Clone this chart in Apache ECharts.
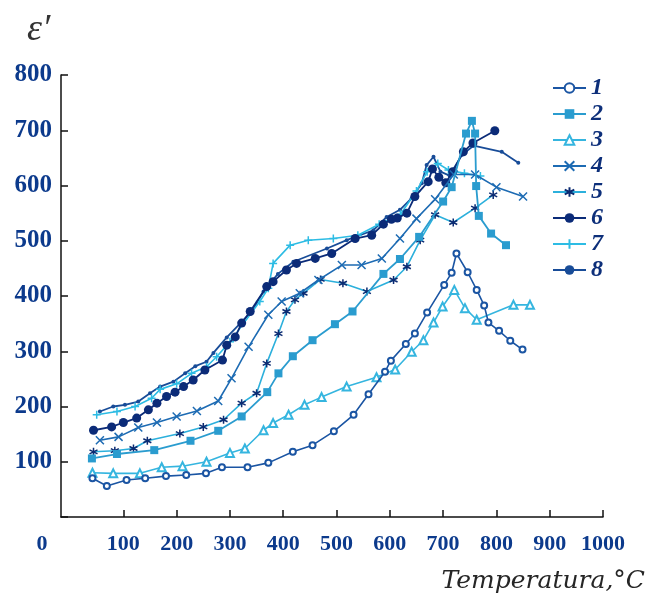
<!DOCTYPE html>
<html>
<head>
<meta charset="utf-8">
<script src="https://cdn.jsdelivr.net/npm/echarts@6/dist/echarts.min.js"></script>
<style>
  html, body { margin: 0; padding: 0; background: #fff; }
  #chart { width: 651px; height: 595px; }
</style>
</head>
<body>
<div id="chart"></div>
<script>
// Dielectric permittivity ε′ versus temperature, curves 1–8
const xTicks = [100, 200, 300, 400, 500, 600, 700, 800, 900, 1000];
const xLabels = [0, 100, 200, 300, 400, 500, 600, 700, 800, 900, 1000];
const seriesNames = ['1', '2', '3', '4', '5', '6', '7', '8'];

const t1 = [42, 69, 106, 141, 180, 218, 255, 285, 333, 372, 418, 455, 495, 532, 560, 591, 602, 630, 647, 670, 702, 716, 725, 746, 763, 777, 785, 805, 826, 849];
const v1 = [70, 56, 67, 70, 74, 76, 79, 90, 90, 98, 118, 130, 155, 185, 222, 263, 283, 313, 332, 370, 420, 442, 477, 443, 411, 383, 352, 337, 319, 303];

const t2 = [41, 88, 158, 226, 278, 322, 370, 391, 418, 455, 497, 530, 588, 619, 655, 700, 716, 743, 754, 760, 762, 767, 790, 818];
const v2 = [106, 114, 121, 138, 156, 182, 226, 260, 291, 320, 349, 372, 440, 467, 507, 571, 597, 694, 717, 694, 599, 545, 513, 492];

const t3 = [42, 81, 131, 172, 211, 256, 300, 328, 363, 381, 410, 440, 472, 519, 575, 610, 641, 663, 682, 699, 721, 741, 763, 832, 863];
const v3 = [80, 79, 79, 90, 92, 100, 116, 124, 157, 170, 185, 203, 217, 236, 253, 267, 299, 320, 352, 381, 411, 378, 357, 384, 384];

const t4 = [56, 91, 128, 163, 200, 238, 278, 303, 335, 372, 397, 431, 466, 510, 547, 585, 619, 650, 685, 720, 760, 800, 850];
const v4 = [139, 145, 162, 171, 182, 192, 210, 251, 308, 366, 390, 405, 429, 456, 456, 468, 504, 540, 575, 620, 620, 597, 580];

const t5 = [44, 84, 119, 145, 206, 250, 288, 322, 350, 369, 391, 406, 422, 438, 470, 512, 557, 607, 632, 657, 685, 719, 760, 794];
const v5 = [118, 120, 124, 138, 151, 163, 176, 206, 224, 278, 332, 372, 393, 405, 430, 423, 408, 429, 453, 501, 547, 533, 559, 583];

const t6 = [44, 78, 100, 125, 147, 163, 181, 197, 213, 231, 253, 286, 294, 310, 322, 338, 369, 381, 406, 425, 460, 491, 535, 566, 588, 603, 614, 632, 647, 672, 680, 692, 705, 718, 738, 756, 797];
const v6 = [157, 163, 171, 179, 194, 206, 218, 226, 236, 248, 266, 284, 311, 326, 351, 372, 417, 426, 447, 459, 468, 477, 504, 510, 530, 539, 541, 550, 580, 607, 630, 615, 605, 625, 661, 677, 699];

const t7 = [50, 88, 122, 153, 169, 200, 228, 256, 275, 300, 356, 372, 381, 413, 447, 494, 540, 580, 620, 650, 670, 690, 710, 740, 770];
const v7 = [185, 191, 200, 215, 231, 241, 260, 272, 290, 317, 390, 414, 459, 492, 501, 504, 510, 530, 548, 590, 625, 640, 628, 622, 617];

const t8 = [56, 81, 103, 128, 150, 169, 194, 216, 235, 256, 269, 294, 322, 341, 363, 390, 419, 482, 519, 569, 594, 619, 641, 660, 669, 682, 695, 712, 735, 757, 810, 841];
const v8 = [191, 200, 203, 209, 224, 236, 245, 260, 273, 281, 297, 325, 353, 372, 408, 440, 462, 486, 501, 519, 543, 556, 577, 604, 637, 652, 625, 618, 655, 672, 661, 641];

const pairs = (t, v) => t.map((x, i) => [x, v[i]]);

const SYM_X = 'path://M0,0L10,10M10,0L0,10';
const SYM_AST = 'path://M5,0L5,10M0,2.5L10,7.5M0,7.5L10,2.5';
const SYM_PLUS = 'path://M5,0L5,10M2,5L8,5';

const styles = [
  { color: '#1b55a3', symbol: 'emptyCircle', size: 6, width: 1.6 },
  { color: '#2a9ccf', symbol: 'rect', size: 8, width: 1.8 },
  { color: '#35b5df', symbol: 'emptyTriangle', size: 8, width: 1.6 },
  { color: '#1d6bb3', symbol: SYM_X, size: 8, width: 1.6, stroke: '#1d6bb3' },
  { color: '#2cb0dc', symbol: SYM_AST, size: 8, width: 1.6, stroke: '#0b2b72' },
  { color: '#0b2b78', symbol: 'circle', size: 9, width: 1.8 },
  { color: '#2dbce4', symbol: SYM_PLUS, size: 8, width: 1.6, stroke: '#2dbce4' },
  { color: '#184c98', symbol: 'circle', size: 4, width: 1.8 }
];

const dataSets = [pairs(t1, v1), pairs(t2, v2), pairs(t3, v3), pairs(t4, v4),
                  pairs(t5, v5), pairs(t6, v6), pairs(t7, v7), pairs(t8, v8)];

const series = dataSets.map((d, i) => {
  const s = styles[i];
  const itemStyle = { color: s.color };
  if (s.stroke) {
    itemStyle.borderColor = s.stroke;
    itemStyle.borderWidth = 1.5;
  }
  return {
    name: seriesNames[i],
    type: 'line',
    data: d,
    symbol: s.symbol,
    symbolSize: s.size,
    showAllSymbol: true,
    lineStyle: { color: s.color, width: s.width },
    itemStyle: itemStyle,
    z: 10 - i
  };
});

const xFont = {
  fontFamily: 'Liberation Serif',
  fontWeight: 'bold',
  fontSize: 22,
  color: '#0c3a8c'
};
const yFont = { ...xFont, fontSize: 25 };

const chart = echarts.init(document.getElementById('chart'), null, { renderer: 'canvas' });
chart.setOption({
  animation: false,
  backgroundColor: '#ffffff',
  grid: { left: 61, right: 48, top: 75, bottom: 78, containLabel: false },
  title: {
    text: 'ε′',
    left: 22,
    top: 6,
    textStyle: { fontFamily: 'Liberation Serif', fontStyle: 'italic', fontWeight: 'normal', fontSize: 38, color: '#333333' }
  },
  legend: {
    orient: 'vertical',
    left: 547,
    top: 71,
    itemWidth: 33,
    itemHeight: 12,
    itemGap: 2,
    data: seriesNames,
    textStyle: { fontFamily: 'Liberation Serif', fontStyle: 'italic', fontWeight: 'bold', fontSize: 24, color: '#0d2f7a' }
  },
  xAxis: {
    type: 'value',
    min: -17,
    max: 1000,
    splitLine: { show: false },
    axisLine: { onZero: false, lineStyle: { color: '#111', width: 1.5 } },
    axisTick: { inside: true, length: 7, customValues: xTicks, lineStyle: { color: '#111', width: 1.5 } },
    axisLabel: {
      customValues: xLabels,
      margin: 16,
      ...xFont,
      formatter: v => (v === 0 ? '{z|0}' : String(v)),
      rich: { z: { ...xFont, padding: [0, 56, 0, 0] } }
    }
  },
  yAxis: {
    type: 'value',
    min: 0,
    max: 800,
    interval: 100,
    splitLine: { show: false },
    axisLine: { show: true, onZero: false, lineStyle: { color: '#111', width: 1.5 } },
    axisTick: { show: true, inside: true, length: 7, lineStyle: { color: '#111', width: 1.5 } },
    axisLabel: {
      margin: 9,
      ...yFont,
      formatter: v => (v === 0 ? '' : String(v))
    }
  },
  graphic: [{
    type: 'text',
    right: 6,
    top: 569,
    style: {
      text: 'Temperatura,°C',
      fontFamily: 'DejaVu Serif',
      fontStyle: 'italic',
      fontSize: 25,
      fill: '#262626'
    }
  }],
  series: series
});
</script>
</body>
</html>
